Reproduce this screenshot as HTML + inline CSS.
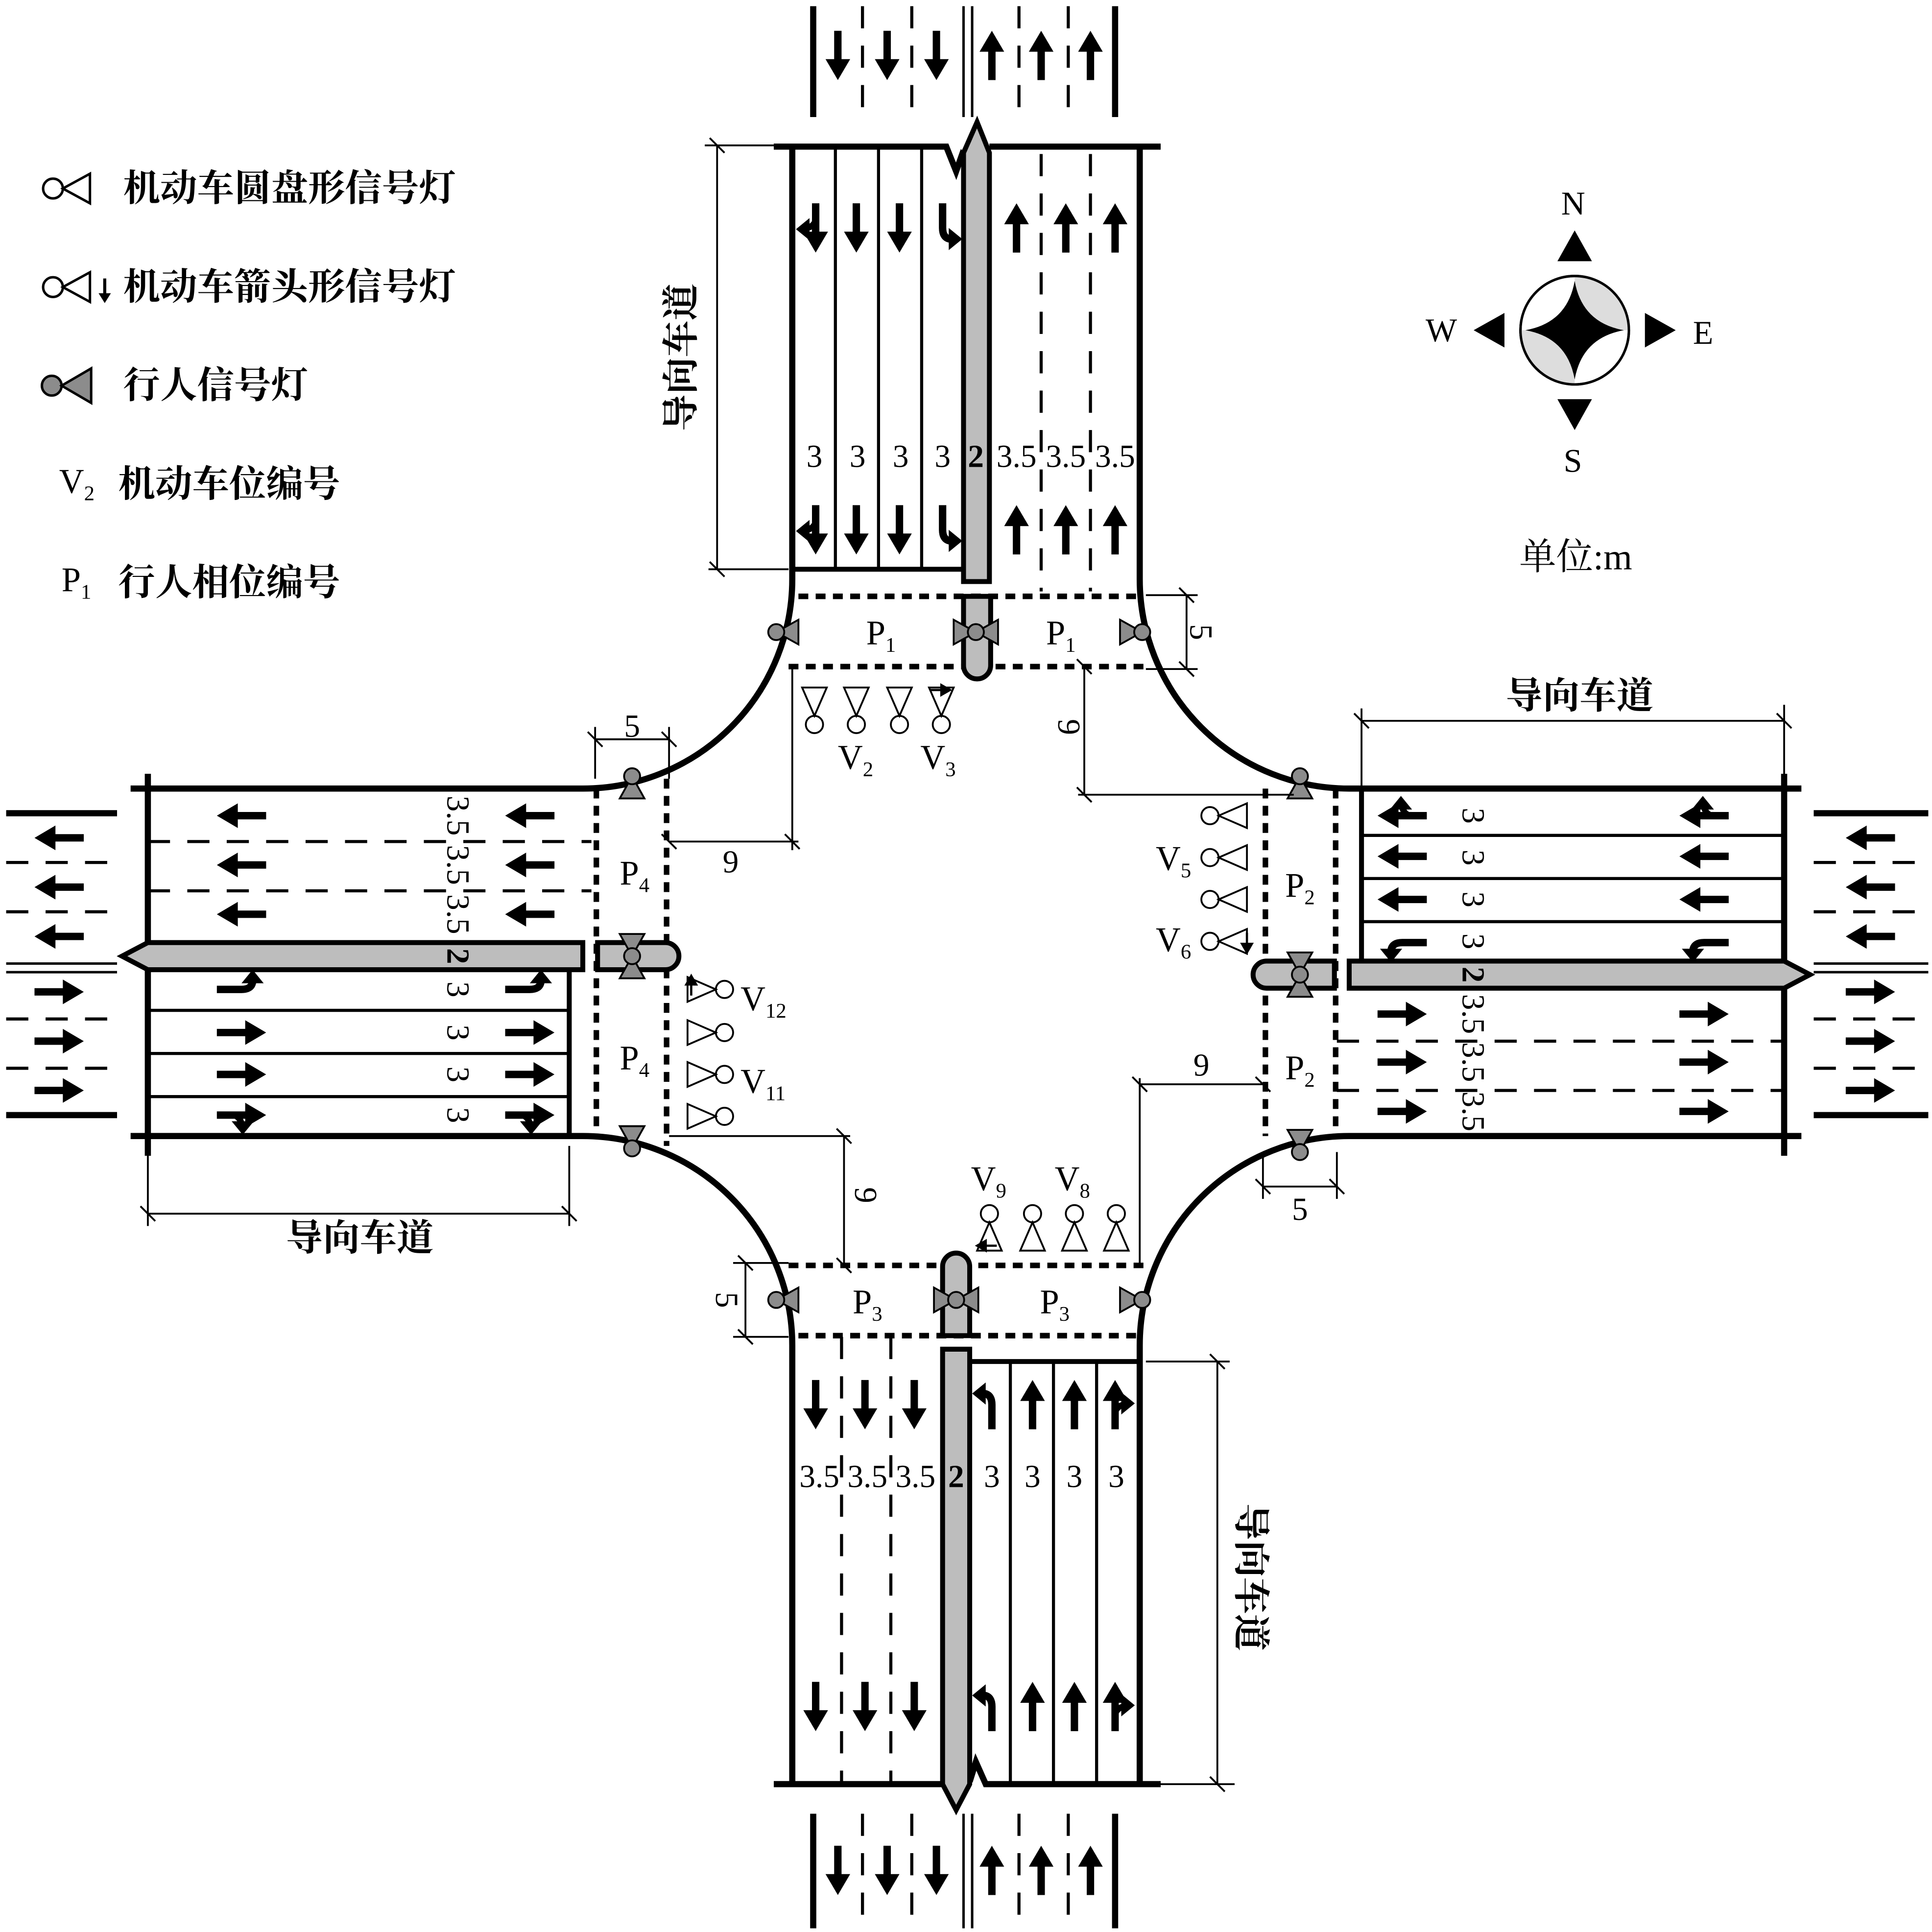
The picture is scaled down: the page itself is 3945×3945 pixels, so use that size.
<!DOCTYPE html>
<html><head><meta charset="utf-8"><style>html,body{margin:0;padding:0;background:#fff}svg{display:block}</style></head><body>
<svg xmlns="http://www.w3.org/2000/svg" width="3945" height="3945" viewBox="0 0 1568 1568" font-family="Liberation Serif, Noto Serif CJK SC, serif">
<defs>
<path id="s" d="M-3,20 V-3 H-10 L0,-20 L10,-3 H3 V20 Z" fill="#000"/>
<g id="L"><path d="M-3,20 V-3 H-10 L0,-20 L10,-3 H3 V20 Z" fill="#000"/><path d="M0,6 Q-2,1 -7,0" stroke="#000" stroke-width="5" fill="none"/><path d="M-16,-1 L-5,-10 L-5,8 Z" fill="#000"/></g>
<g id="tL"><path d="M0,20 V0 Q0,-8 -6,-9" stroke="#000" stroke-width="6" fill="none"/><path d="M-16,-9 L-5,-18 L-5,0 Z" fill="#000"/></g>
<polygon id="pt" points="0,0 18,-10 18,10" fill="#8c8c8c" stroke="#000" stroke-width="1.5"/>
<g id="vs"><circle cx="0" cy="0" r="7" fill="#fff" stroke="#000" stroke-width="1.5"/><polygon points="0,-7 -10,-30 10,-30" fill="#fff" stroke="#000" stroke-width="1.5"/></g>
<circle id="pc" r="6.5" fill="#8c8c8c" stroke="#000" stroke-width="1.5"/>
</defs>
<rect width="1568" height="1568" fill="#fff"/>

<g stroke="#000" stroke-width="5" fill="none">
<path d="M643,120 V470 A170,170 0 0 1 473,640 H120"/>
<path d="M925,120 V470 A170,170 0 0 0 1095,640 H1448"/>
<path d="M120,922 H473 A170,170 0 0 1 643,1092 V1448"/>
<path d="M1448,922 H1095 A170,170 0 0 0 925,1092 V1448"/>
<path d="M120,628 V938 M1448,628 V938"/>
<path d="M628,119 H768 L776,139 L782,122 M803,119 H942"/>
<path d="M628,1448 H765 M787,1446 L792,1430 L800,1448 H942" />
<path d="M106,640 H120 M106,922 H120 M1448,640 H1462 M1448,922 H1462"/>
</g>
<g stroke="#000" stroke-width="4">
<line x1="643" y1="462" x2="782" y2="462"/>
<line x1="462" y1="787" x2="462" y2="922"/>
<line x1="1105" y1="640" x2="1105" y2="780"/>
<line x1="787" y1="1105" x2="925" y2="1105"/>
</g>
<g stroke="#000" stroke-width="2.5">
<path d="M678,120V462 M713,120V462 M748,120V462"/>
<path d="M820,1105V1448 M855,1105V1448 M890,1105V1448"/>
<path d="M120,820H462 M120,855H462 M120,890H462"/>
<path d="M1105,678H1448 M1105,713H1448 M1105,748H1448"/>
</g>
<g stroke="#000" stroke-width="2.5" stroke-dasharray="18,14">
<path d="M845,125V480 M885,125V480"/>
<path d="M683,1085V1448 M723,1085V1448"/>
<path d="M120,683H480 M120,723H480"/>
<path d="M1085,845H1448 M1085,885H1448"/>
</g>
<g stroke="#000" stroke-width="4.5" stroke-dasharray="8,6">
<path d="M648,484H925 M640,541H932"/>
<path d="M640,1027H928 M648,1084H925"/>
<path d="M484,640V922 M541,632V930"/>
<path d="M1027,640V922 M1084,640V922"/>
</g>
<g fill="#bdbdbd" stroke="#000" stroke-width="4">
<polygon points="782,472 782,124 793,99 803,124 803,472"/>
<path d="M782,484 V540 A11,11 0 0 0 804,540 V484 Z"/>
<polygon points="473,765 120,765 99,776 120,787 473,787"/>
<path d="M485,765 H540 A11,11 0 0 1 540,787 H485 Z"/>
<polygon points="1095,780 1448,780 1469,791 1448,802 1095,802"/>
<path d="M1083,780 H1028 A11,11 0 0 0 1028,802 H1083 Z"/>
<polygon points="765,1095 765,1448 776,1469 787,1448 787,1095"/>
<path d="M765,1084 V1028 A11,11 0 0 1 787,1028 V1084 Z"/>
</g>

<g stroke="#000">
<path d="M660,5V95 M905,5V95 M660,1472V1565 M905,1472V1565" stroke-width="5"/>
<path d="M5,660H95 M5,905H95 M1472,660H1565 M1472,905H1565" stroke-width="5"/>
<path d="M782,5V95 M789,5V95 M782,1472V1565 M789,1472V1565 M5,782H95 M5,789H95 M1472,782H1565 M1472,789H1565" stroke-width="2"/>
<g stroke-width="2.5" stroke-dasharray="18,14">
<path d="M700,5V95 M740,5V95 M827,5V95 M867,5V95"/>
<path d="M700,1472V1565 M740,1472V1565 M827,1472V1565 M867,1472V1565"/>
<path d="M5,700H95 M5,740H95 M5,827H95 M5,867H95"/>
<path d="M1472,700H1565 M1472,740H1565 M1472,827H1565 M1472,867H1565"/>
</g>
</g>
<use href="#s" transform="translate(680,45) rotate(180)"/><use href="#s" transform="translate(720,45) rotate(180)"/><use href="#s" transform="translate(760,45) rotate(180)"/>
<use href="#s" transform="translate(805,45)"/><use href="#s" transform="translate(845,45)"/><use href="#s" transform="translate(885,45)"/>
<use href="#s" transform="translate(680,1518) rotate(180)"/><use href="#s" transform="translate(720,1518) rotate(180)"/><use href="#s" transform="translate(760,1518) rotate(180)"/>
<use href="#s" transform="translate(805,1518)"/><use href="#s" transform="translate(845,1518)"/><use href="#s" transform="translate(885,1518)"/>
<use href="#s" transform="translate(48,680) rotate(-90)"/><use href="#s" transform="translate(48,720) rotate(-90)"/><use href="#s" transform="translate(48,760) rotate(-90)"/>
<use href="#s" transform="translate(48,805) rotate(90)"/><use href="#s" transform="translate(48,845) rotate(90)"/><use href="#s" transform="translate(48,885) rotate(90)"/>
<use href="#s" transform="translate(1518,680) rotate(-90)"/><use href="#s" transform="translate(1518,720) rotate(-90)"/><use href="#s" transform="translate(1518,760) rotate(-90)"/>
<use href="#s" transform="translate(1518,805) rotate(90)"/><use href="#s" transform="translate(1518,845) rotate(90)"/><use href="#s" transform="translate(1518,885) rotate(90)"/>

<g>
<use href="#L" transform="translate(662,185) rotate(180) scale(-1,1)"/><use href="#s" transform="translate(695,185) rotate(180)"/><use href="#s" transform="translate(730,185) rotate(180)"/><use href="#tL" transform="translate(765,185) rotate(180)"/>
<use href="#L" transform="translate(662,430) rotate(180) scale(-1,1)"/><use href="#s" transform="translate(695,430) rotate(180)"/><use href="#s" transform="translate(730,430) rotate(180)"/><use href="#tL" transform="translate(765,430) rotate(180)"/>
<use href="#s" transform="translate(825,185)"/><use href="#s" transform="translate(865,185)"/><use href="#s" transform="translate(905,185)"/>
<use href="#s" transform="translate(825,430)"/><use href="#s" transform="translate(865,430)"/><use href="#s" transform="translate(905,430)"/>
<use href="#s" transform="translate(662,1140) rotate(180)"/><use href="#s" transform="translate(702,1140) rotate(180)"/><use href="#s" transform="translate(742,1140) rotate(180)"/>
<use href="#s" transform="translate(662,1385) rotate(180)"/><use href="#s" transform="translate(702,1385) rotate(180)"/><use href="#s" transform="translate(742,1385) rotate(180)"/>
<use href="#tL" transform="translate(805,1140)"/><use href="#s" transform="translate(838,1140)"/><use href="#s" transform="translate(872,1140)"/><use href="#L" transform="translate(905,1140) scale(-1,1)"/>
<use href="#tL" transform="translate(805,1385)"/><use href="#s" transform="translate(838,1385)"/><use href="#s" transform="translate(872,1385)"/><use href="#L" transform="translate(905,1385) scale(-1,1)"/>
<use href="#s" transform="translate(196,662) rotate(-90)"/><use href="#s" transform="translate(196,702) rotate(-90)"/><use href="#s" transform="translate(196,742) rotate(-90)"/>
<use href="#s" transform="translate(430,662) rotate(-90)"/><use href="#s" transform="translate(430,702) rotate(-90)"/><use href="#s" transform="translate(430,742) rotate(-90)"/>
<use href="#tL" transform="translate(196,803) rotate(90)"/><use href="#s" transform="translate(196,838) rotate(90)"/><use href="#s" transform="translate(196,872) rotate(90)"/><use href="#L" transform="translate(196,905) rotate(90) scale(-1,1)"/>
<use href="#tL" transform="translate(430,803) rotate(90)"/><use href="#s" transform="translate(430,838) rotate(90)"/><use href="#s" transform="translate(430,872) rotate(90)"/><use href="#L" transform="translate(430,905) rotate(90) scale(-1,1)"/>
<use href="#L" transform="translate(1138,662) rotate(-90) scale(-1,1)"/><use href="#s" transform="translate(1138,695) rotate(-90)"/><use href="#s" transform="translate(1138,730) rotate(-90)"/><use href="#tL" transform="translate(1138,765) rotate(-90)"/>
<use href="#L" transform="translate(1383,662) rotate(-90) scale(-1,1)"/><use href="#s" transform="translate(1383,695) rotate(-90)"/><use href="#s" transform="translate(1383,730) rotate(-90)"/><use href="#tL" transform="translate(1383,765) rotate(-90)"/>
<use href="#s" transform="translate(1138,823) rotate(90)"/><use href="#s" transform="translate(1138,862) rotate(90)"/><use href="#s" transform="translate(1138,902) rotate(90)"/>
<use href="#s" transform="translate(1383,823) rotate(90)"/><use href="#s" transform="translate(1383,862) rotate(90)"/><use href="#s" transform="translate(1383,902) rotate(90)"/>
</g>

<g>
<use href="#pt" transform="translate(630,513)"/><use href="#pc" x="630" y="513"/>
<use href="#pt" transform="translate(792,513)"/><use href="#pt" transform="translate(792,513) rotate(180)"/><use href="#pc" x="792" y="513"/>
<use href="#pt" transform="translate(927,513) rotate(180)"/><use href="#pc" x="927" y="513"/>
<use href="#pt" transform="translate(630,1055)"/><use href="#pc" x="630" y="1055"/>
<use href="#pt" transform="translate(776,1055)"/><use href="#pt" transform="translate(776,1055) rotate(180)"/><use href="#pc" x="776" y="1055"/>
<use href="#pt" transform="translate(927,1055) rotate(180)"/><use href="#pc" x="927" y="1055"/>
<use href="#pt" transform="translate(513,630) rotate(90)"/><use href="#pc" x="513" y="630"/>
<use href="#pt" transform="translate(513,776) rotate(90)"/><use href="#pt" transform="translate(513,776) rotate(-90)"/><use href="#pc" x="513" y="776"/>
<use href="#pt" transform="translate(513,932) rotate(-90)"/><use href="#pc" x="513" y="932"/>
<use href="#pt" transform="translate(1055,630) rotate(90)"/><use href="#pc" x="1055" y="630"/>
<use href="#pt" transform="translate(1055,791) rotate(90)"/><use href="#pt" transform="translate(1055,791) rotate(-90)"/><use href="#pc" x="1055" y="791"/>
<use href="#pt" transform="translate(1055,935) rotate(-90)"/><use href="#pc" x="1055" y="935"/>
</g>
<g>
<use href="#vs" transform="translate(661,588)"/><use href="#vs" transform="translate(695,588)"/><use href="#vs" transform="translate(730,588)"/><use href="#vs" transform="translate(764,588)"/>
<use href="#vs" transform="translate(803,985) rotate(180)"/><use href="#vs" transform="translate(838,985) rotate(180)"/><use href="#vs" transform="translate(872,985) rotate(180)"/><use href="#vs" transform="translate(906,985) rotate(180)"/>
<use href="#vs" transform="translate(588,803) rotate(-90)"/><use href="#vs" transform="translate(588,838) rotate(-90)"/><use href="#vs" transform="translate(588,872) rotate(-90)"/><use href="#vs" transform="translate(588,906) rotate(-90)"/>
<use href="#vs" transform="translate(982,662) rotate(90)"/><use href="#vs" transform="translate(982,696) rotate(90)"/><use href="#vs" transform="translate(982,730) rotate(90)"/><use href="#vs" transform="translate(982,764) rotate(90)"/>
</g>
<g stroke="#000" stroke-width="1.8" fill="#000">
<path d="M755,560H766" /><path d="M764,556L771,560L764,564Z"/>
<path d="M1012,757V768"/><path d="M1008,766L1012,773L1016,766Z"/>
<path d="M561,797V808"/><path d="M557,799L561,792L565,799Z"/>
<path d="M798,1011H809"/><path d="M800,1007L793,1011L800,1015Z"/>
</g>

<g stroke="#000" stroke-width="1.5" fill="none">
<path d="M582,118V462 M572,118H640 M575,462H640 M576,112L588,124 M576,456L588,468"/>
<path d="M988,1105V1448 M930,1105H998 M930,1448H1002 M982,1099L994,1111 M982,1442L994,1454"/>
<path d="M1105,585H1448 M1105,575V640 M1448,572V640 M1099,579L1111,591 M1442,579L1454,591"/>
<path d="M120,985H462 M120,922V995 M462,930V995 M114,979L126,991 M456,979L468,991"/>
<path d="M963,483V543 M930,483H972 M930,543H972 M957,477L969,489 M957,537L969,549"/>
<path d="M880,541V645 M875,645H1050 M874,535L886,547 M874,639L886,651"/>
<path d="M483,600H543 M483,590V632 M543,590V632 M477,594L489,606 M537,594L549,606"/>
<path d="M643,543V690 M543,683H648 M537,677L549,689 M637,677L649,689"/>
<path d="M1025,963H1085 M1025,935V973 M1085,935V973 M1019,957L1031,969 M1079,957L1091,969"/>
<path d="M925,880H1025 M925,875V1028 M919,874L931,886 M1019,874L1031,886"/>
<path d="M605,1025V1085 M595,1025H640 M595,1085H640 M599,1019L611,1031 M599,1079L611,1091"/>
<path d="M685,922V1027 M543,922H690 M679,916L691,928 M679,1021L691,1033"/>
</g>

<g font-size="26" fill="#000" text-anchor="middle">
<text x="661" y="379">3</text><text x="696" y="379">3</text><text x="731" y="379">3</text><text x="765" y="379">3</text><text x="792" y="379" font-weight="bold">2</text><text x="825" y="379">3.5</text><text x="865" y="379">3.5</text><text x="905" y="379">3.5</text>
<text x="665" y="1207">3.5</text><text x="704" y="1207">3.5</text><text x="743" y="1207">3.5</text><text x="776" y="1207" font-weight="bold">2</text><text x="805" y="1207">3</text><text x="838" y="1207">3</text><text x="872" y="1207">3</text><text x="906" y="1207">3</text>
<g transform="translate(372,0)">
<text transform="translate(0,662) rotate(90)" y="9">3.5</text><text transform="translate(0,702) rotate(90)" y="9">3.5</text><text transform="translate(0,742) rotate(90)" y="9">3.5</text><text transform="translate(0,776) rotate(90)" y="9" font-weight="bold">2</text>
<text transform="translate(0,803) rotate(90)" y="9">3</text><text transform="translate(0,838) rotate(90)" y="9">3</text><text transform="translate(0,872) rotate(90)" y="9">3</text><text transform="translate(0,905) rotate(90)" y="9">3</text>
</g>
<g transform="translate(1196,0)">
<text transform="translate(0,662) rotate(90)" y="9">3</text><text transform="translate(0,696) rotate(90)" y="9">3</text><text transform="translate(0,730) rotate(90)" y="9">3</text><text transform="translate(0,764) rotate(90)" y="9">3</text><text transform="translate(0,791) rotate(90)" y="9" font-weight="bold">2</text>
<text transform="translate(0,823) rotate(90)" y="9">3.5</text><text transform="translate(0,862) rotate(90)" y="9">3.5</text><text transform="translate(0,902) rotate(90)" y="9">3.5</text>
</g>
<text x="513" y="598">5</text><text x="593" y="708">9</text>
<text x="975" y="873">9</text><text x="1055" y="990">5</text>
<text transform="translate(975,513) rotate(90)" y="9">5</text>
<text transform="translate(868,590) rotate(90)" y="9">9</text>
<text transform="translate(590,1055) rotate(90)" y="9">5</text>
<text transform="translate(703,970) rotate(90)" y="9">9</text>
</g>
<g font-size="28" fill="#000">
<text x="703" y="523">P<tspan font-size="17" dy="6">1</tspan></text>
<text x="849" y="523">P<tspan font-size="17" dy="6">1</tspan></text>
<text x="503" y="718">P<tspan font-size="17" dy="6">4</tspan></text>
<text x="503" y="868">P<tspan font-size="17" dy="6">4</tspan></text>
<text x="1043" y="728">P<tspan font-size="17" dy="6">2</tspan></text>
<text x="1043" y="876">P<tspan font-size="17" dy="6">2</tspan></text>
<text x="692" y="1066">P<tspan font-size="17" dy="6">3</tspan></text>
<text x="844" y="1066">P<tspan font-size="17" dy="6">3</tspan></text>
<text x="680" y="624">V<tspan font-size="17" dy="6">2</tspan></text>
<text x="747" y="624">V<tspan font-size="17" dy="6">3</tspan></text>
<text x="938" y="706">V<tspan font-size="17" dy="6">5</tspan></text>
<text x="938" y="772">V<tspan font-size="17" dy="6">6</tspan></text>
<text x="601" y="820">V<tspan font-size="17" dy="6">12</tspan></text>
<text x="601" y="887">V<tspan font-size="17" dy="6">11</tspan></text>
<text x="788" y="966">V<tspan font-size="17" dy="6">9</tspan></text>
<text x="856" y="966">V<tspan font-size="17" dy="6">8</tspan></text>
<text x="48" y="400">V<tspan font-size="17" dy="6">2</tspan></text>
<text x="50" y="480">P<tspan font-size="17" dy="6">1</tspan></text>
<text x="1267" y="174" font-size="27">N</text>
<text x="1269" y="383" font-size="27">S</text>
<text x="1157" y="277" font-size="27">W</text>
<text x="1374" y="279" font-size="27">E</text>
</g>
<g font-family="Liberation Serif, Noto Serif CJK SC, serif" font-size="30" font-weight="bold" fill="#000">
<text x="100" y="163">机动车圆盘形信号灯</text>
<text x="100" y="243">机动车箭头形信号灯</text>
<text x="100" y="323">行人信号灯</text>
<text x="96" y="403">机动车位编号</text>
<text x="96" y="483">行人相位编号</text>
<text x="1233" y="462" font-weight="normal">单位<tspan>:m</tspan></text>
<text x="1222" y="575">导向车道</text>
<text x="232" y="1015">导向车道</text>
<text transform="translate(553,290) rotate(-90)" text-anchor="middle" y="10">导向车道</text>
<text transform="translate(1015,1280) rotate(90)" text-anchor="middle" y="10">导向车道</text>
</g>
<g stroke="#000" stroke-width="2" fill="#fff">
<circle cx="43" cy="153" r="8"/><polygon points="51,153 73,141 73,165"/>
<circle cx="43" cy="233" r="8"/><polygon points="51,233 73,221 73,245"/>
<circle cx="42" cy="313" r="8" fill="#8c8c8c"/><polygon points="50,313 74,299 74,327" fill="#8c8c8c"/>
</g>
<path d="M85,226V240" stroke="#000" stroke-width="2.5"/><path d="M80,238L85,246L90,238Z" fill="#000"/>

<g>
<circle cx="1278" cy="268" r="44" fill="#fff" stroke="#000" stroke-width="2"/>
<path d="M1278,268 H1322 A44,44 0 0 0 1278,224 Z" fill="#ddd"/>
<path d="M1278,268 H1234 A44,44 0 0 0 1278,312 Z" fill="#ddd"/>
<circle cx="1278" cy="268" r="44" fill="none" stroke="#000" stroke-width="2"/>
<path d="M1278,228 Q1284,262 1318,268 Q1284,274 1278,308 Q1272,274 1238,268 Q1272,262 1278,228 Z" fill="#000"/>
<polygon points="1278,187 1264,212 1292,212" fill="#000"/>
<polygon points="1278,349 1264,324 1292,324" fill="#000"/>
<polygon points="1196,268 1221,254 1221,282" fill="#000"/>
<polygon points="1360,268 1335,254 1335,282" fill="#000"/>
</g>
</svg>
</body></html>
